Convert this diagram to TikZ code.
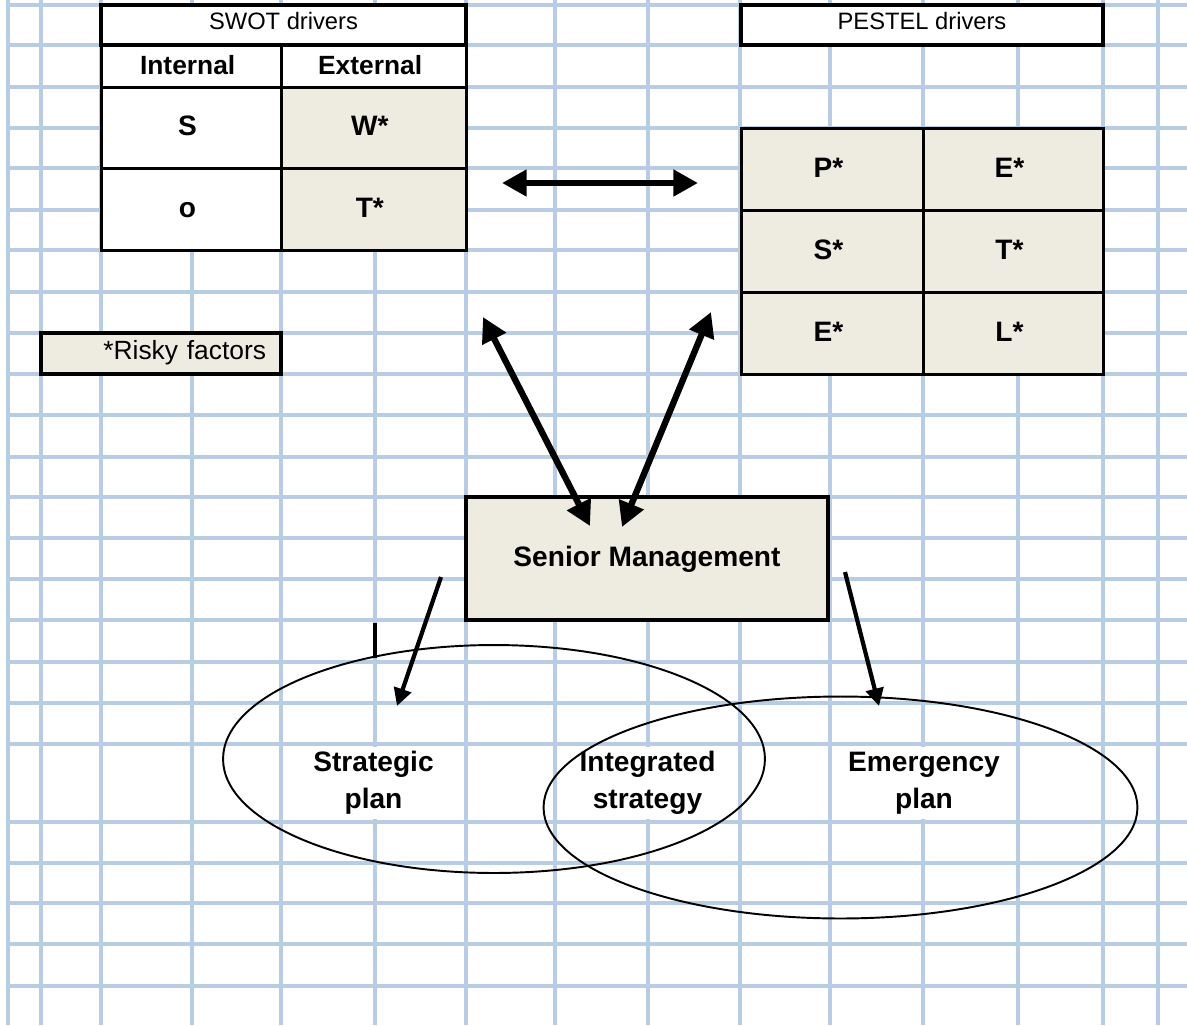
\documentclass[tikz,border=0pt]{standalone}
\usepackage{fontspec}
\setmainfont{Liberation Sans}
\usetikzlibrary{matrix, positioning, arrows.meta, shapes.geometric}
\definecolor{gridblue}{RGB}{184,204,228}
\definecolor{risktan}{RGB}{238,236,225}

\begin{document}
\begin{tikzpicture}[x=0.02cm, y=-0.02cm,
        gridline/.style={draw=gridblue, line width=2pt},
        matr/.style={
            matrix of nodes,
            line width=1.9pt,
            inner sep=0pt,
            row sep=-\pgflinewidth,
            column sep=-\pgflinewidth,
            nodes={draw, fill=white, line width=1.9pt, inner sep=0pt, align=center,
                   text height=11pt, text depth=2pt,
                   font=\fontsize{16}{19}\selectfont\bfseries},
            nodes in empty cells
        },
        titlebox/.style={draw, fill=white, line width=1.9pt, inner sep=0pt,
            minimum height=0.8cm, text height=10pt, text depth=5pt,
            font=\fontsize{13.5}{16}\selectfont},
        tanbox/.style={draw, fill=risktan, line width=1.9pt, inner sep=0pt, align=center},
        plancell/.style={fill=white, inner sep=0pt, minimum width=3.62cm, minimum height=1.44cm,
            align=center, font=\fontsize{16}{21}\selectfont\bfseries},
        ring/.style={draw, ellipse, line width=1.1pt, inner sep=0pt},
        bigarrow/.style={line width=3.6pt, {Triangle[length=14pt,width=14.5pt]}-{Triangle[length=14pt,width=14.5pt]}},
        smallarrow/.style={line width=2.4pt, -{Triangle[length=10pt,width=10pt]}}
    ]
    \useasboundingbox (0,0) rectangle (1187,1025);

    % sheet grid
    \foreach \gx in {8,41,101,192,281,375,466,555,648,740,830,923,1018,1103,1158}
        \draw[gridline] (\gx,0) -- (\gx,1025);
    \foreach \gy in {5,45,87,128,168,210,250,292,333,374,415,457,497,538,579,620,662,703,744,822,863,903,944,986}
        \draw[gridline] (8,\gy) -- (1187,\gy);

    % SWOT
    \node (swottitle) [titlebox, minimum width=7.3cm] at (283.5,25) {SWOT drivers};
    \matrix (swot) [matr, anchor=north west,
            column 1/.style={nodes={minimum width=3.6cm}},
            column 2/.style={nodes={minimum width=3.7cm}},
            row 1/.style={nodes={minimum height=0.84cm, font=\fontsize{15}{18}\selectfont\bfseries}},
            row 2/.style={nodes={minimum height=1.62cm}},
            row 3/.style={nodes={minimum height=1.64cm}}] at (98,42) {
        Internal & External \\
        S        & |[fill=risktan]| W* \\
        o        & |[fill=risktan]| T* \\
    };

    % PESTEL
    \node (pesteltitle) [titlebox, minimum width=7.24cm] at (922,25) {PESTEL drivers};
    \matrix (pestel) [matr, anchor=north west,
            nodes={fill=risktan, minimum height=1.64cm},
            column 1/.style={nodes={minimum width=3.64cm}},
            column 2/.style={nodes={minimum width=3.6cm}}] at (738,125) {
        P* & E* \\
        S* & T* \\
        E* & L* \\
    };

    \node (risky) [tanbox, minimum width=4.8cm, minimum height=0.82cm, text width=4.2cm,
        align=right, text height=10.7pt, text depth=3.9pt,
        font=\fontsize{15}{18}\selectfont] at (161,353.5) {*Risky factors};

    \node (senior) [tanbox, minimum width=7.24cm, minimum height=2.46cm,
        text height=11pt, text depth=2pt,
        font=\fontsize{16}{19}\selectfont\bfseries] at (647,558.5) {Senior Management};

    \draw[line width=1.9pt] (375,623) -- (375,658);

    % plans
    \node (stratplan) [plancell] at (373.5,783) {Strategic\\plan};
    \node (intstrat) [plancell] at (647.5,783) {Integrated\\strategy};
    \node (emerplan) [plancell, minimum width=3.68cm] at (924,783) {Emergency\\plan};
    \node (stratring) [ring, minimum width=10.84cm, minimum height=4.56cm] at (494,759) {};
    \node (emerring) [ring, minimum width=11.88cm, minimum height=4.44cm] at (840.5,807.5) {};

    % arrow ends
    \coordinate (swotside) at (502,183);
    \coordinate (pestelside) at (698,183);
    \coordinate (swotend) at (483,317);
    \coordinate (pestelend) at (711,312);
    \coordinate (seniorleft) at (590,526);
    \coordinate (seniorright) at (622,527);
    \coordinate (stratstart) at (441,577);
    \coordinate (stratend) at (397,706);
    \coordinate (emerstart) at (845,572);
    \coordinate (emerend) at (879,706);

    \draw[bigarrow] (swotside) -- (pestelside);
    \draw[bigarrow] (swotend) -- (seniorleft);
    \draw[bigarrow] (pestelend) -- (seniorright);
    \draw[smallarrow] (stratstart) -- (stratend);
    \draw[smallarrow] (emerstart) -- (emerend);
\end{tikzpicture}
\end{document}
